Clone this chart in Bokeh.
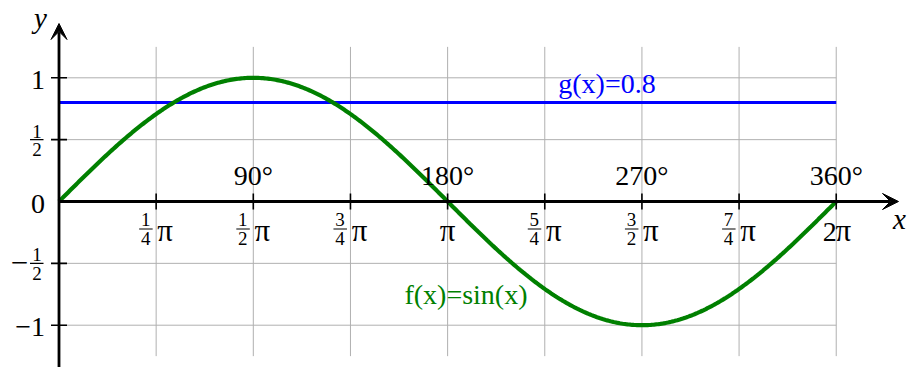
import numpy as np
from bokeh.plotting import figure
from bokeh.models import Range1d, Arrow, VeeHead
from bokeh.core.properties import value
from bokeh.embed import file_html
from bokeh.resources import INLINE

# ---- data -------------------------------------------------------------
x_vals = np.linspace(0.0, 2.0 * np.pi, 500)   # sample points on [0, 2pi]
f_vals = np.sin(x_vals)                        # f(x) = sin(x)
g_level = 0.8                                  # g(x) = 0.8

# x ticks at multiples of pi/4
x_ticks = [k * np.pi / 4 for k in range(1, 9)]
frac_ticks = [np.pi / 4, np.pi / 2, 3 * np.pi / 4, 5 * np.pi / 4, 3 * np.pi / 2, 7 * np.pi / 4]
frac_num = ["1", "1", "3", "5", "3", "7"]
frac_den = ["4", "2", "4", "4", "2", "4"]
whole_ticks = [np.pi, 2 * np.pi]
whole_coef = ["", "2"]
deg_ticks = [np.pi / 2, np.pi, 3 * np.pi / 2, 2 * np.pi]
deg_labels = ["90°", "180°", "270°", "360°"]

# y ticks
y_grid = [-1.0, -0.5, 0.5, 1.0]
y_int_ticks = [1.0, 0.0, -1.0]
y_int_labels = ["1", "0", "−1"]
y_frac_ticks = [0.5, -0.5]

# ---- layout -----------------------------------------------------------
W, H = 908, 367
PX = 123.7                 # pixels per unit on both axes
OX, OY = 58.5, 201.0       # pixel position of the origin


def d(px):
    """screen pixels -> data units"""
    return px / PX


X_TIP = d(898 - OX)
Y_TIP = d(OY - 23)
GRID_TOP = 1.25
X_END = 2 * np.pi

SERIF = value("Liberation Serif")
GREEN = "#008000"
BLUE = "#0000ff"
GRID = "#b0b0b0"
BIG = "28px"
SMALL = "19px"
PI = "31px"

p = figure(width=W, height=H, output_backend="svg", toolbar_location=None,
           x_range=Range1d(-d(OX), d(W - OX)), y_range=Range1d(-d(H - OY), d(OY)),
           x_axis_type=None, y_axis_type=None, min_border=0)
p.grid.visible = False
p.outline_line_color = None
p.background_fill_color = "white"
p.border_fill_color = "white"

# grid
p.segment(x0=x_ticks, x1=x_ticks, y0=[-GRID_TOP] * len(x_ticks), y1=[GRID_TOP] * len(x_ticks),
          line_color=GRID, line_width=1)
p.segment(x0=[0] * len(y_grid), x1=[X_END] * len(y_grid), y0=y_grid, y1=y_grid,
          line_color=GRID, line_width=1)

# curves
p.line(x=[0, X_END], y=[g_level, g_level], line_color=BLUE, line_width=3)
p.line(x=x_vals, y=f_vals, line_color=GREEN, line_width=4.2)

# axes with arrow heads
p.add_layout(Arrow(x_start=0, y_start=0, x_end=X_TIP, y_end=0, line_width=2.8, line_color="black",
                   end=VeeHead(size=16, fill_color="black", line_color="black", line_width=1)))
p.add_layout(Arrow(x_start=0, y_start=-1.5, x_end=0, y_end=Y_TIP, line_width=2.8, line_color="black",
                   end=VeeHead(size=16, fill_color="black", line_color="black", line_width=1)))

# tick marks
t = d(8)
p.segment(x0=x_ticks, x1=x_ticks, y0=[-t] * len(x_ticks), y1=[t] * len(x_ticks),
          line_color="black", line_width=1.6)
p.segment(x0=[-t] * len(y_grid), x1=[t] * len(y_grid), y0=y_grid, y1=y_grid,
          line_color="black", line_width=1.6)

common = dict(text_align="center", text_baseline="middle", text_font=SERIF)

# x tick labels: fractions of pi
n = len(frac_ticks)
p.text(x=frac_ticks, y=[0] * n, text=frac_num, x_offset=-10.5, y_offset=18,
       text_font_size=SMALL, **common)
p.text(x=frac_ticks, y=[0] * n, text=frac_den, x_offset=-10.5, y_offset=37,
       text_font_size=SMALL, **common)
p.segment(x0=[v - d(17) for v in frac_ticks], x1=[v - d(3.5) for v in frac_ticks],
          y0=[-d(27.5)] * n, y1=[-d(27.5)] * n, line_color="black", line_width=1.1)
p.text(x=frac_ticks, y=[0] * n, text=["π"] * n, x_offset=9, y_offset=28.5,
       text_font_size=PI, **common)
# pi and 2pi: coefficient digit followed by pi
p.text(x=whole_ticks, y=[0, 0], text=whole_coef, x_offset=-6.5, y_offset=30,
       text_font_size=BIG, **common)
p.text(x=whole_ticks, y=[0, 0], text=["π", "π"], x_offset=[0, 7], y_offset=28.5,
       text_font_size=PI, **common)

# degree labels above the axis
p.text(x=deg_ticks, y=[0] * len(deg_ticks), text=deg_labels, y_offset=-26,
       text_font_size=BIG, **common)

# y tick labels
p.text(x=[0] * 3, y=y_int_ticks, text=y_int_labels, x_offset=-14, y_offset=2,
       text_align="right", text_baseline="middle", text_font=SERIF, text_font_size=BIG)
m = len(y_frac_ticks)
p.text(x=[0] * m, y=y_frac_ticks, text=["1"] * m, x_offset=-22, y_offset=-8.5,
       text_font_size=SMALL, **common)
p.text(x=[0] * m, y=y_frac_ticks, text=["2"] * m, x_offset=-22, y_offset=10,
       text_font_size=SMALL, **common)
p.segment(x0=[-d(29)] * m, x1=[-d(15.5)] * m, y0=y_frac_ticks, y1=y_frac_ticks,
          line_color="black", line_width=1.1)
p.text(x=[0], y=[-0.5], text=["−"], x_offset=-39.5, y_offset=-1,
       text_font_size="31px", **common)

# axis names
p.text(x=[0], y=[Y_TIP], text=["y"], x_offset=-18.5, y_offset=-6,
       text_font_style="italic", text_font_size="29px", **common)
p.text(x=[X_TIP], y=[0], text=["x"], x_offset=1, y_offset=17,
       text_font_style="italic", text_font_size="29px", **common)

# function labels
p.text(x=[4.43], y=[g_level], text=["g(x)=0.8"], y_offset=-19.5,
       text_font_size="28px", text_color=BLUE, **common)
p.text(x=[3.29], y=[-0.825], text=["f(x)=sin(x)"], y_offset=-9.5,
       text_font_size="28px", text_color=GREEN, **common)

open("out.html", "w").write(file_html(p, INLINE))
